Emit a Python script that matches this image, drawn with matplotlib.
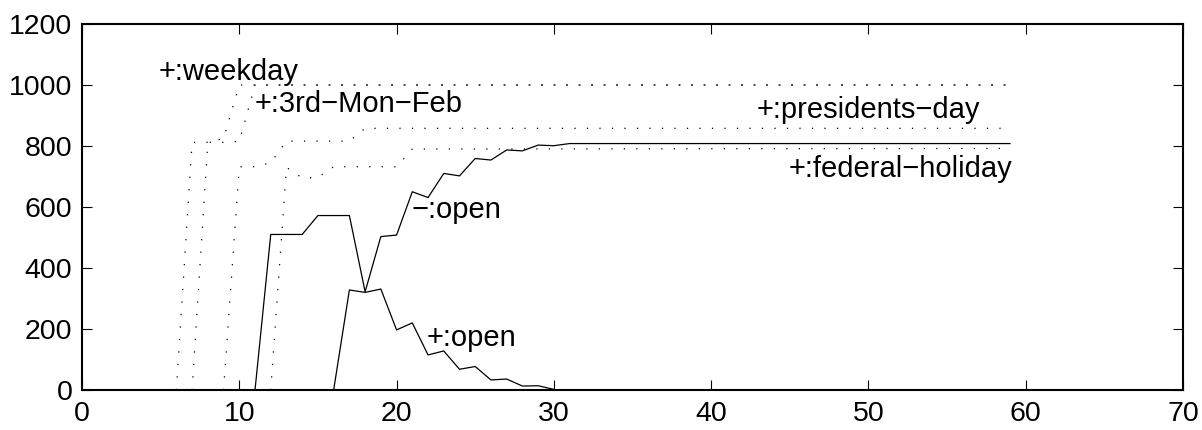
import matplotlib
matplotlib.use("Agg")
import matplotlib.pyplot as plt

plt.rcParams['font.family'] = ['Liberation Sans', 'DejaVu Sans']

# x positions (days) and values for each series
x_weekday = [6, 7, 8, 9, 10, 59]
y_weekday = [0, 812, 812, 825, 1000, 1000]

x_3rdmon = [7, 8, 9, 10, 11, 59]
y_3rdmon = [0, 812, 812, 815, 1000, 1000]

x_pres = [9, 10, 11, 12, 13, 14, 15, 16, 17, 18, 59]
y_pres = [0, 732, 732, 745, 816, 816, 816, 816, 816, 858, 858]

x_fed = [12, 13, 14, 15, 16, 17, 18, 19, 20, 21, 59]
y_fed = [0, 730, 695, 697, 732, 732, 732, 732, 732, 790, 792]

x_open_neg = [11, 12, 13, 14, 15, 16, 17, 18, 19, 20, 21, 22, 23, 24, 25, 26,
              27, 28, 29, 30, 31, 59]
y_open_neg = [0, 510, 510, 510, 572, 572, 572, 322, 503, 508, 650, 631, 710, 702,
              759, 754, 787, 784, 803, 801, 808, 808]

x_open_pos = [16, 17, 18, 19, 20, 21, 22, 23, 24, 25, 26, 27, 28, 29, 30]
y_open_pos = [0, 328, 320, 331, 197, 220, 115, 128, 68, 77, 33, 36, 13, 14, 2]

labels = ["+:weekday", "+:3rd\u2212Mon\u2212Feb", "+:presidents\u2212day",
          "+:federal\u2212holiday", "\u2212:open", "+:open"]
label_x = [4.9, 10.95, 42.9, 44.9, 20.95, 21.9]
label_y = [1041, 939, 918, 724, 591, 172]

xticks = [0, 10, 20, 30, 40, 50, 60, 70]
yticks = [0, 200, 400, 600, 800, 1000, 1200]

fig = plt.figure(figsize=(12.02, 4.30), dpi=100)
ax = fig.add_axes([82/1202, 40/430, 1101/1202, 366/430])

dot = (0, (1, 9))
for xs, ys in [(x_weekday, y_weekday), (x_3rdmon, y_3rdmon),
               (x_pres, y_pres), (x_fed, y_fed)]:
    ax.plot(xs, ys, color='black', linestyle=dot, linewidth=0.9, clip_on=False)
for xs, ys in [(x_open_neg, y_open_neg), (x_open_pos, y_open_pos)]:
    ax.plot(xs, ys, color='black', linestyle='-', linewidth=0.9)

for t, lx, ly in zip(labels, label_x, label_y):
    ax.text(lx, ly, t, ha='left', va='center', fontsize=21)

ax.set_xlim(0, 70)
ax.set_ylim(0, 1200)
ax.set_xticks(xticks)
ax.set_yticks(yticks)
ax.tick_params(direction='in', length=7, width=0.8, labelsize=20.5,
               top=True, right=True)
ax.tick_params(axis='x', pad=8)
ax.tick_params(axis='y', pad=7)
for s in ax.spines.values():
    s.set_linewidth(1.5)

fig.savefig("out.png", dpi=100)
